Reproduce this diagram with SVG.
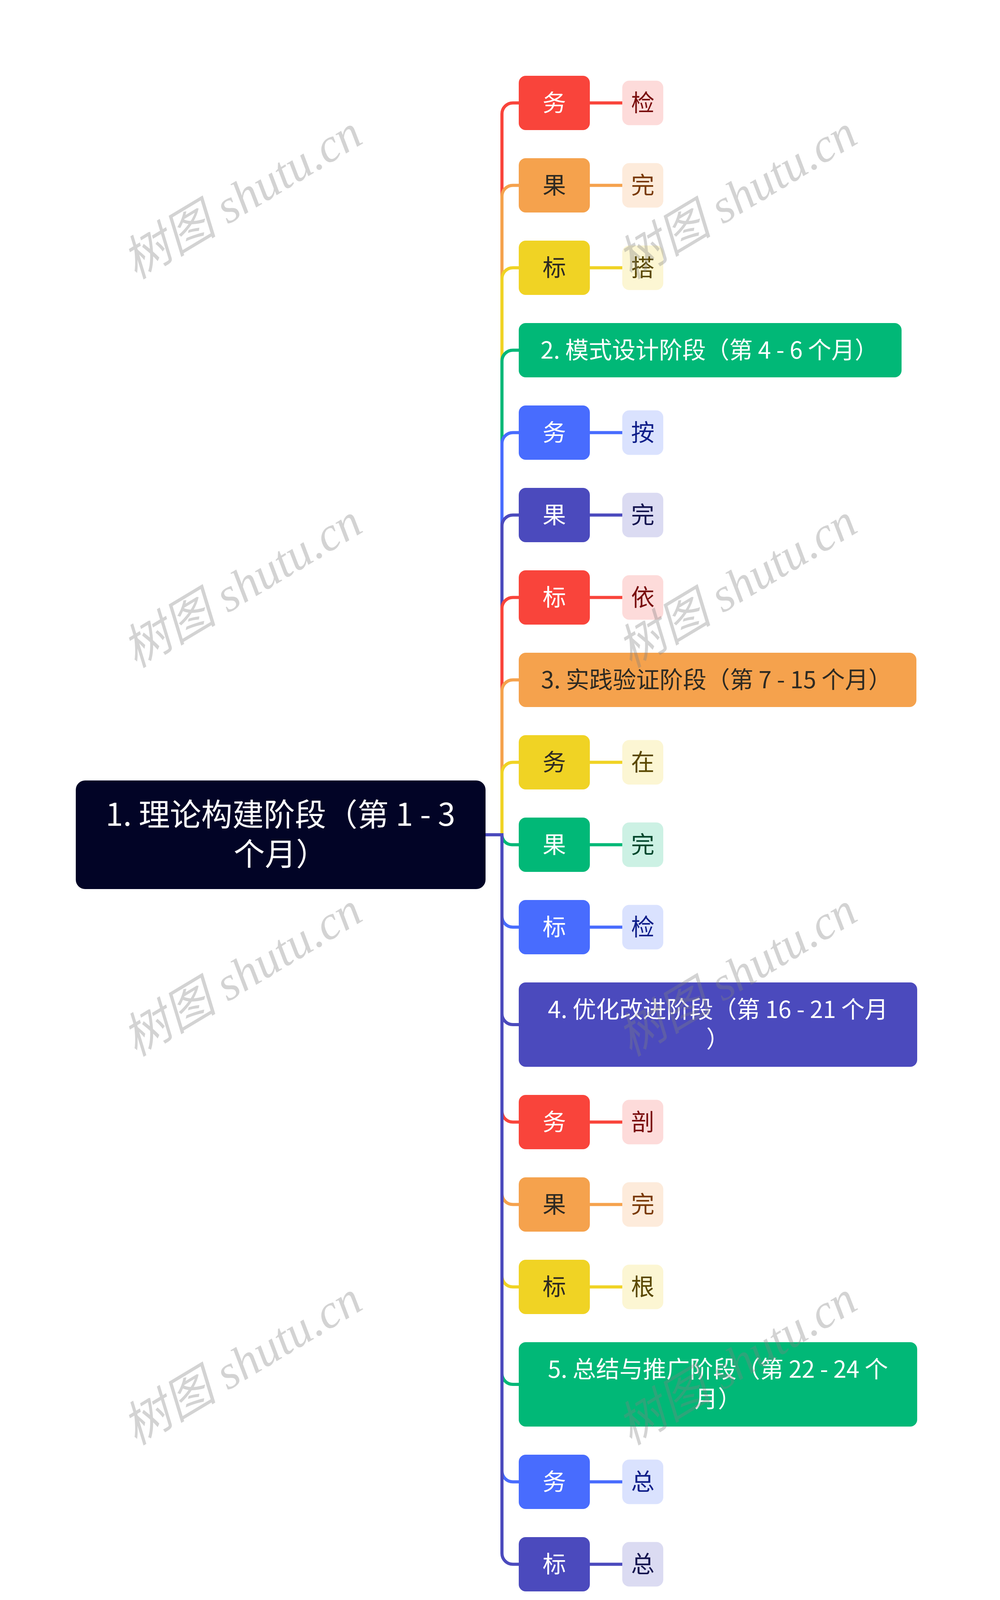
<svg xmlns="http://www.w3.org/2000/svg" width="2560" height="4301" viewBox="0 0 2560 4301">
<style>
.t{font-family:"Noto Sans CJK SC","Noto Sans",sans-serif;font-size:60px;text-anchor:middle}
.rt{font-family:"Noto Sans CJK SC","Noto Sans",sans-serif;font-size:80px;text-anchor:middle;fill:#ffffff}
.w{fill:#ffffff}.d{fill:#2e2a22}
.c{fill:none;stroke-width:8}
.wm{font-family:"Liberation Serif","Noto Sans CJK SC",serif;font-style:italic;font-size:122px;fill:#808080;fill-opacity:0.35;text-anchor:middle}
.red{fill:#f9443b}.ora{fill:#f5a24d}.yel{fill:#f0d324}.grn{fill:#01b877}.blu{fill:#486cfe}.ind{fill:#4b4abd}
.lred{fill:#fddbda}.lora{fill:#fdebdb}.lyel{fill:#fcf6d3}.lgrn{fill:#ccf1e4}.lblu{fill:#dae2fe}.lind{fill:#dbdbf2}
</style>
<rect x="0" y="0" width="2560" height="4301" fill="#ffffff"/>
<g id="connectors">
<path class="c" stroke="#f9443b" d="M1243,2137 H1285 V291.5 A28,28 0 0 1 1313,263.5 H1328 M1510,263.5 H1593"/>
<path class="c" stroke="#f5a24d" d="M1243,2137 H1285 V502.5 A28,28 0 0 1 1313,474.5 H1328 M1510,474.5 H1593"/>
<path class="c" stroke="#f0d324" d="M1243,2137 H1285 V713.5 A28,28 0 0 1 1313,685.5 H1328 M1510,685.5 H1593"/>
<path class="c" stroke="#01b877" d="M1243,2137 H1285 V924.5 A28,28 0 0 1 1313,896.5 H1328"/>
<path class="c" stroke="#486cfe" d="M1243,2137 H1285 V1135.5 A28,28 0 0 1 1313,1107.5 H1328 M1510,1107.5 H1593"/>
<path class="c" stroke="#4b4abd" d="M1243,2137 H1285 V1346.5 A28,28 0 0 1 1313,1318.5 H1328 M1510,1318.5 H1593"/>
<path class="c" stroke="#f9443b" d="M1243,2137 H1285 V1557.5 A28,28 0 0 1 1313,1529.5 H1328 M1510,1529.5 H1593"/>
<path class="c" stroke="#f5a24d" d="M1243,2137 H1285 V1768.5 A28,28 0 0 1 1313,1740.5 H1328"/>
<path class="c" stroke="#f0d324" d="M1243,2137 H1285 V1979.5 A28,28 0 0 1 1313,1951.5 H1328 M1510,1951.5 H1593"/>
<path class="c" stroke="#01b877" d="M1243,2137 H1285 V2137 A25.5,25.5 0 0 0 1310.5,2162.5 H1328 M1510,2162.5 H1593"/>
<path class="c" stroke="#486cfe" d="M1243,2137 H1285 V2345.5 A28,28 0 0 0 1313,2373.5 H1328 M1510,2373.5 H1593"/>
<path class="c" stroke="#4b4abd" d="M1243,2137 H1285 V2595 A28,28 0 0 0 1313,2623 H1328"/>
<path class="c" stroke="#f9443b" d="M1243,2137 H1285 V2844.5 A28,28 0 0 0 1313,2872.5 H1328 M1510,2872.5 H1593"/>
<path class="c" stroke="#f5a24d" d="M1243,2137 H1285 V3055.5 A28,28 0 0 0 1313,3083.5 H1328 M1510,3083.5 H1593"/>
<path class="c" stroke="#f0d324" d="M1243,2137 H1285 V3266.5 A28,28 0 0 0 1313,3294.5 H1328 M1510,3294.5 H1593"/>
<path class="c" stroke="#01b877" d="M1243,2137 H1285 V3516 A28,28 0 0 0 1313,3544 H1328"/>
<path class="c" stroke="#486cfe" d="M1243,2137 H1285 V3765.5 A28,28 0 0 0 1313,3793.5 H1328 M1510,3793.5 H1593"/>
<path class="c" stroke="#4b4abd" d="M1243,2137 H1285 V3976.5 A28,28 0 0 0 1313,4004.5 H1328 M1510,4004.5 H1593"/>
</g>
<g id="root">
<rect x="194" y="1998" width="1049" height="278" rx="24" fill="#020426"/>
<text class="rt" x="718" y="2114">1. 理论构建阶段（第 1 - 3</text>
<text class="rt" x="718" y="2215">个月）</text>
</g>
<g id="n1"><rect class="red" x="1328" y="194" width="182" height="139" rx="18"/><text class="t w" x="1419" y="285">务</text></g>
<g id="l1"><rect class="lred" x="1593" y="206.5" width="105" height="114" rx="18"/><text class="t" fill="#7a0f0f" x="1645.5" y="285">检</text></g>
<g id="n2"><rect class="ora" x="1328" y="405" width="182" height="139" rx="18"/><text class="t d" x="1419" y="496">果</text></g>
<g id="l2"><rect class="lora" x="1593" y="417.5" width="105" height="114" rx="18"/><text class="t" fill="#7a3a06" x="1645.5" y="496">完</text></g>
<g id="n3"><rect class="yel" x="1328" y="616" width="182" height="139" rx="18"/><text class="t d" x="1419" y="707">标</text></g>
<g id="l3"><rect class="lyel" x="1593" y="628.5" width="105" height="114" rx="18"/><text class="t" fill="#5a4800" x="1645.5" y="707">搭</text></g>
<g id="n4"><rect class="grn" x="1328" y="827" width="980" height="139" rx="18"/><text class="t w" x="1816" y="918">2. 模式设计阶段（第 4 - 6 个月）</text></g>
<g id="n5"><rect class="blu" x="1328" y="1038" width="182" height="139" rx="18"/><text class="t w" x="1419" y="1129">务</text></g>
<g id="l5"><rect class="lblu" x="1593" y="1050.5" width="105" height="114" rx="18"/><text class="t" fill="#0f1f8a" x="1645.5" y="1129">按</text></g>
<g id="n6"><rect class="ind" x="1328" y="1249" width="182" height="139" rx="18"/><text class="t w" x="1419" y="1340">果</text></g>
<g id="l6"><rect class="lind" x="1593" y="1261.5" width="105" height="114" rx="18"/><text class="t" fill="#14144f" x="1645.5" y="1340">完</text></g>
<g id="n7"><rect class="red" x="1328" y="1460" width="182" height="139" rx="18"/><text class="t w" x="1419" y="1551">标</text></g>
<g id="l7"><rect class="lred" x="1593" y="1472.5" width="105" height="114" rx="18"/><text class="t" fill="#7a0f0f" x="1645.5" y="1551">依</text></g>
<g id="n8"><rect class="ora" x="1328" y="1671" width="1018" height="139" rx="18"/><text class="t d" x="1834" y="1762">3. 实践验证阶段（第 7 - 15 个月）</text></g>
<g id="n9"><rect class="yel" x="1328" y="1882" width="182" height="139" rx="18"/><text class="t d" x="1419" y="1973">务</text></g>
<g id="l9"><rect class="lyel" x="1593" y="1894.5" width="105" height="114" rx="18"/><text class="t" fill="#5a4800" x="1645.5" y="1973">在</text></g>
<g id="n10"><rect class="grn" x="1328" y="2093" width="182" height="139" rx="18"/><text class="t w" x="1419" y="2184">果</text></g>
<g id="l10"><rect class="lgrn" x="1593" y="2105.5" width="105" height="114" rx="18"/><text class="t" fill="#00472d" x="1645.5" y="2184">完</text></g>
<g id="n11"><rect class="blu" x="1328" y="2304" width="182" height="139" rx="18"/><text class="t w" x="1419" y="2395">标</text></g>
<g id="l11"><rect class="lblu" x="1593" y="2316.5" width="105" height="114" rx="18"/><text class="t" fill="#0f1f8a" x="1645.5" y="2395">检</text></g>
<g id="n12"><rect class="ind" x="1328" y="2515" width="1020" height="216" rx="18"/><text class="t w" x="1838" y="2606">4. 优化改进阶段（第 16 - 21 个月</text><text class="t w" x="1838" y="2682">）</text></g>
<g id="n13"><rect class="red" x="1328" y="2803" width="182" height="139" rx="18"/><text class="t w" x="1419" y="2894">务</text></g>
<g id="l13"><rect class="lred" x="1593" y="2815.5" width="105" height="114" rx="18"/><text class="t" fill="#7a0f0f" x="1645.5" y="2894">剖</text></g>
<g id="n14"><rect class="ora" x="1328" y="3014" width="182" height="139" rx="18"/><text class="t d" x="1419" y="3105">果</text></g>
<g id="l14"><rect class="lora" x="1593" y="3026.5" width="105" height="114" rx="18"/><text class="t" fill="#7a3a06" x="1645.5" y="3105">完</text></g>
<g id="n15"><rect class="yel" x="1328" y="3225" width="182" height="139" rx="18"/><text class="t d" x="1419" y="3316">标</text></g>
<g id="l15"><rect class="lyel" x="1593" y="3237.5" width="105" height="114" rx="18"/><text class="t" fill="#5a4800" x="1645.5" y="3316">根</text></g>
<g id="n16"><rect class="grn" x="1328" y="3436" width="1020" height="216" rx="18"/><text class="t w" x="1838" y="3527">5. 总结与推广阶段（第 22 - 24 个</text><text class="t w" x="1838" y="3603">月）</text></g>
<g id="n17"><rect class="blu" x="1328" y="3724" width="182" height="139" rx="18"/><text class="t w" x="1419" y="3815">务</text></g>
<g id="l17"><rect class="lblu" x="1593" y="3736.5" width="105" height="114" rx="18"/><text class="t" fill="#0f1f8a" x="1645.5" y="3815">总</text></g>
<g id="n18"><rect class="ind" x="1328" y="3935" width="182" height="139" rx="18"/><text class="t w" x="1419" y="4026">标</text></g>
<g id="l18"><rect class="lind" x="1593" y="3947.5" width="105" height="114" rx="18"/><text class="t" fill="#14144f" x="1645.5" y="4026">总</text></g>
<g id="watermarks">
<text class="wm" transform="translate(641,540) rotate(-31)">树图 shutu.cn</text>
<text class="wm" transform="translate(1908,540) rotate(-31)">树图 shutu.cn</text>
<text class="wm" transform="translate(641,1535) rotate(-31)">树图 shutu.cn</text>
<text class="wm" transform="translate(1908,1535) rotate(-31)">树图 shutu.cn</text>
<text class="wm" transform="translate(641,2530) rotate(-31)">树图 shutu.cn</text>
<text class="wm" transform="translate(1908,2530) rotate(-31)">树图 shutu.cn</text>
<text class="wm" transform="translate(641,3525) rotate(-31)">树图 shutu.cn</text>
<text class="wm" transform="translate(1908,3525) rotate(-31)">树图 shutu.cn</text>
</g>
</svg>
